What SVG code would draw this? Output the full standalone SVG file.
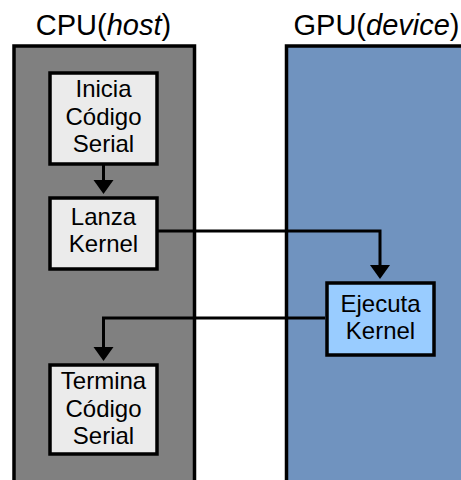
<svg xmlns="http://www.w3.org/2000/svg" width="461" height="480" viewBox="0 0 461 480">
<style>
text{font-family:"Liberation Sans",Arial,sans-serif;fill:#000;text-anchor:middle}
.title{font-size:29px}
.lbl{font-size:24px}
.lane{stroke:#000;stroke-width:3.5}
.node{stroke:#000;stroke-width:3.5}
.plain{fill:#EBEBEB}
.dev{fill:#99CCFF}
.conn{fill:none;stroke:#000;stroke-width:3}
</style>
<defs>
<marker id="arr" viewBox="0 -10 14 20" refX="0" refY="0" markerWidth="14" markerHeight="20" markerUnits="userSpaceOnUse" orient="auto" overflow="visible">
<path d="M0,-10 L14,0 L0,10 z" fill="#000"/>
</marker>
</defs>
<g id="cpu-lane">
<rect class="lane" x="14" y="46" width="180.5" height="460" fill="#808080"/>
<text class="title" x="103.5" y="35">CPU(<tspan font-style="italic">host</tspan>)</text>
</g>
<g id="gpu-lane">
<rect class="lane" x="286.5" y="46" width="200" height="460" fill="#7093BF"/>
<text class="title" x="376.5" y="35">GPU(<tspan font-style="italic">device</tspan>)</text>
</g>
<g id="connectors">
<path class="conn" d="M103.5,165 V180" marker-end="url(#arr)"/>
<path class="conn" d="M158,231 H380 V265" marker-end="url(#arr)"/>
<path class="conn" d="M325,318 H103.5 V347" marker-end="url(#arr)"/>
</g>
<g id="inicia">
<rect class="node plain" x="50" y="73" width="107" height="91"/>
<text class="lbl" x="103.5" y="97">Inicia</text>
<text class="lbl" x="103.5" y="125">Código</text>
<text class="lbl" x="103.5" y="152">Serial</text>
</g>
<g id="lanza">
<rect class="node plain" x="50" y="198" width="107" height="71"/>
<text class="lbl" x="103.5" y="225">Lanza</text>
<text class="lbl" x="103.5" y="252">Kernel</text>
</g>
<g id="ejecuta">
<rect class="node dev" x="327" y="283" width="107" height="72"/>
<text class="lbl" x="380.5" y="312">Ejecuta</text>
<text class="lbl" x="380.5" y="339">Kernel</text>
</g>
<g id="termina">
<rect class="node plain" x="50" y="365" width="107" height="89"/>
<text class="lbl" x="103.5" y="389">Termina</text>
<text class="lbl" x="103.5" y="417">Código</text>
<text class="lbl" x="103.5" y="444">Serial</text>
</g>
</svg>
